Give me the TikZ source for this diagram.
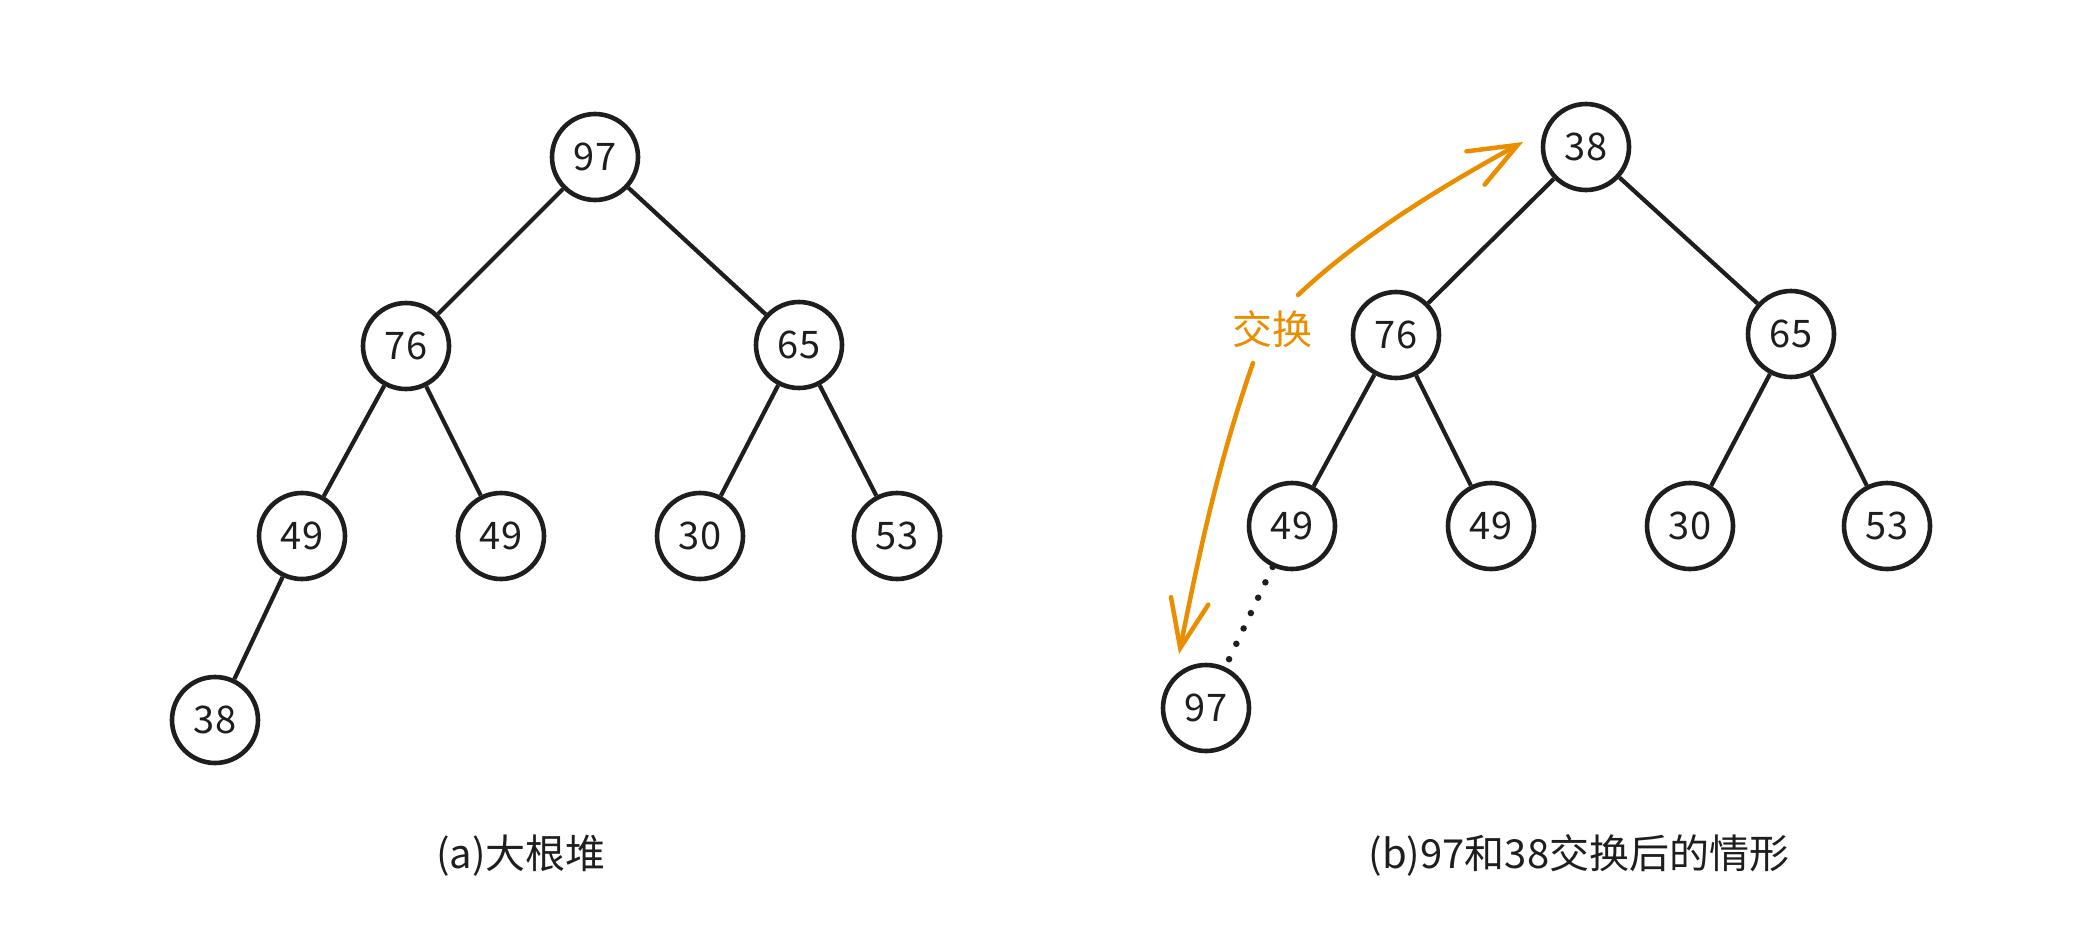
\documentclass[tikz,border=0pt]{standalone}
\usepackage{fontspec}
\setmainfont{Noto Sans CJK SC}
\usetikzlibrary{arrows.meta}
\definecolor{swaporange}{RGB}{234,142,0}
\definecolor{ink}{RGB}{30,30,30}
\tikzset{
  heapnode/.style={circle, draw=ink, line width=4.6pt, minimum size=86pt, inner sep=0pt,
    font=\fontsize{38pt}{42pt}\selectfont, text=ink},
  edge/.style={draw=ink, line width=4.2pt},
  dotedge/.style={draw=ink, line width=6.5pt, line cap=round, dash pattern=on 0pt off 17pt},
  swaparrow/.style={draw=swaporange, line width=4.5pt, line cap=round,
    -{Straight Barb[length=48pt,width=38pt,line cap=round]}},
  caption/.style={font=\fontsize{40pt}{46pt}\selectfont, text=ink},
  swaplabel/.style={font=\fontsize{40pt}{46pt}\selectfont, text=swaporange, inner sep=2pt}
}
\begin{document}
\begin{tikzpicture}[x=1pt, y=-1pt]
  \fill[white] (0,0) rectangle (2082,948);
  \useasboundingbox (0,0) rectangle (2082,948);

  % (a) max heap
  \node[heapnode] (a97) at (595,157) {97};
  \node[heapnode] (a76) at (406,346) {76};
  \node[heapnode] (a65) at (799,345) {65};
  \node[heapnode] (a49l) at (302,536) {49};
  \node[heapnode] (a49r) at (501,536) {49};
  \node[heapnode] (a30) at (700,536) {30};
  \node[heapnode] (a53) at (897,536) {53};
  \node[heapnode] (a38) at (215,720) {38};

  \draw[edge] (a97) -- (a76);
  \draw[edge] (a97) -- (a65);
  \draw[edge] (a76) -- (a49l);
  \draw[edge] (a76) -- (a49r);
  \draw[edge] (a65) -- (a30);
  \draw[edge] (a65) -- (a53);
  \draw[edge] (a49l) -- (a38);

  % (b) after swapping
  \node[heapnode] (b38) at (1586,147) {38};
  \node[heapnode] (b76) at (1396,335) {76};
  \node[heapnode] (b65) at (1791,334) {65};
  \node[heapnode] (b49l) at (1292,526) {49};
  \node[heapnode] (b49r) at (1491,526) {49};
  \node[heapnode] (b30) at (1690,526) {30};
  \node[heapnode] (b53) at (1887,526) {53};
  \node[heapnode] (b97) at (1206,708) {97};

  \draw[edge] (b38) -- (b76);
  \draw[edge] (b38) -- (b65);
  \draw[edge] (b76) -- (b49l);
  \draw[edge] (b76) -- (b49r);
  \draw[edge] (b65) -- (b30);
  \draw[edge] (b65) -- (b53);
  \draw[dotedge] (b49l) -- (b97);

  % swap arrows
  \node[swaplabel] (swap) at (1272,329) {交换};
  \coordinate (up0) at (1298,295);
  \coordinate (up1) at (1523,142);
  \coordinate (dn0) at (1253,363);
  \coordinate (dn1) at (1179,654);
  \draw[swaparrow] (up0) .. controls (1365,232) and (1450,182) .. (up1);
  \draw[swaparrow] (dn0) .. controls (1218,463) and (1199,554) .. (dn1);

  % captions
  \node[caption] (capa) at (521,856) {(a)大根堆};
  \node[caption] (capb) at (1579,855) {(b)97和38交换后的情形};
\end{tikzpicture}
\end{document}
